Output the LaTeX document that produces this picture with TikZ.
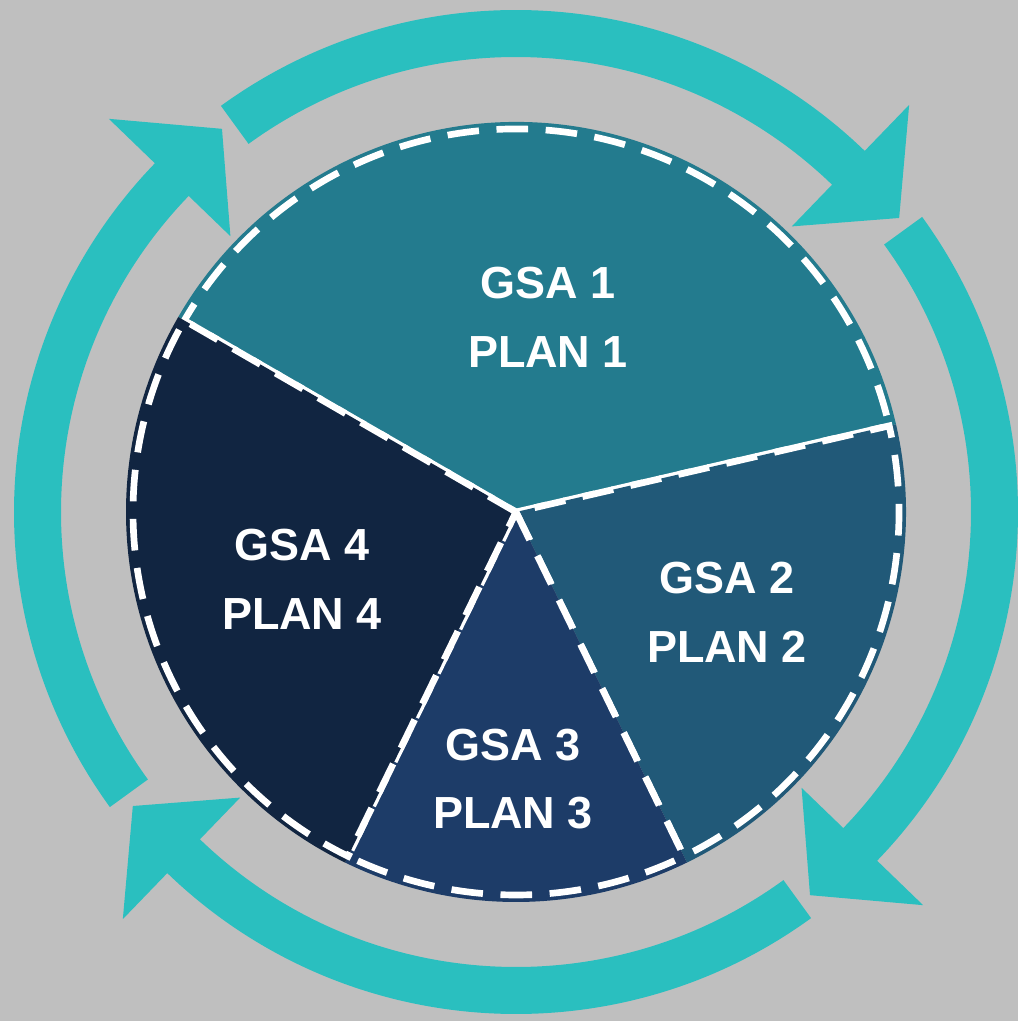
\documentclass[tikz,border=0pt]{standalone}
\usepackage{fontspec}
\setmainfont{Liberation Sans}
\definecolor{bg}{HTML}{BFBFBF}
\definecolor{ring}{HTML}{2ABFBF}
\definecolor{gsaA}{HTML}{237B8E}
\definecolor{gsaB}{HTML}{215978}
\definecolor{gsaC}{HTML}{1D3C68}
\definecolor{gsaD}{HTML}{112541}
\tikzset{
  sector/.style={draw=white, line width=1.9pt, dash pattern=on 9pt off 5pt},
  gsatext/.style={text=white, font=\bfseries\fontsize{12.8}{19.6}\selectfont, align=center}
}
% one slice of the pie: start angle, end angle, colour
\newcommand{\pieslice}[3]{%
  \fill[#3] (hub) -- ++(#1:3.9) arc[start angle=#1, end angle=#2, radius=3.9] -- cycle;
  \draw[sector] (hub) -- ++(#1:3.83) arc[start angle=#1, end angle=#2, radius=3.83] -- cycle;}
\begin{document}
\begin{tikzpicture}
        \fill[bg] (0,0) rectangle (10.18,10.21);
        \useasboundingbox (0,0) rectangle (10.18,10.21);
        \coordinate (hub) at (5.16,5.09);
        % arrows round the pie
        \foreach \k in {0,...,3}{
            \fill[ring, shift={(hub)}] ({126-90*\k}:5.02) arc[start angle={126-90*\k}, end angle={46-90*\k}, radius=5.02]
                -- ({46-90*\k}:5.66) -- ({37.5-90*\k}:4.83) -- ({46-90*\k}:3.97) -- ({46-90*\k}:4.55)
                arc[start angle={46-90*\k}, end angle={126-90*\k}, radius=4.55] -- cycle;
        }
        \pieslice{13}{150}{gsaA}
        \pieslice{-64}{13}{gsaB}
        \pieslice{-116}{-64}{gsaC}
        \pieslice{150}{244}{gsaD}
        \node[gsatext] (gsa1) at (5.48,7.04) {GSA 1\\PLAN 1};
        \node[gsatext] (gsa2) at (7.27,4.09) {GSA 2\\PLAN 2};
        \node[gsatext] (gsa3) at (5.13,2.42) {GSA 3\\PLAN 3};
        \node[gsatext] (gsa4) at (3.02,4.42) {GSA 4\\PLAN 4};
    \end{tikzpicture}
\end{document}
